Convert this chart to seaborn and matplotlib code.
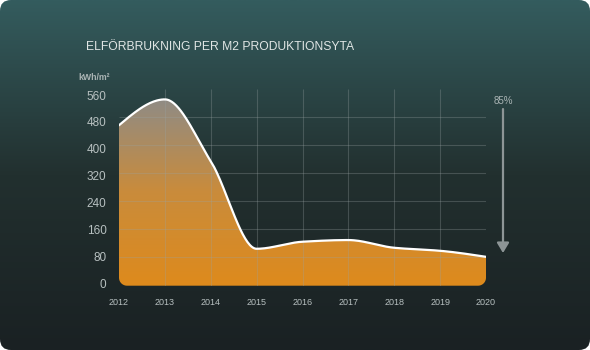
import numpy as np
import pandas as pd
import matplotlib
matplotlib.use('Agg')
import matplotlib.pyplot as plt
import seaborn as sns
from matplotlib.colors import LinearSegmentedColormap
from matplotlib.patches import Polygon, FancyBboxPatch

# data
years = [2012, 2013, 2014, 2015, 2016, 2017, 2018, 2019, 2020]
kwh_per_m2 = [470, 547, 363, 102, 123, 128, 105, 96, 78]
y_ticks = [0, 80, 160, 240, 320, 400, 480, 560]
title = 'ELFÖRBRUKNING PER M2 PRODUKTIONSYTA'
unit = 'kWh/m²'
reduction = '85%'


def monotone_curve(x, y, n=40):
	# monotone cubic (Fritsch-Carlson) used only to draw a smooth line through the points
	x = np.asarray(x, float)
	y = np.asarray(y, float)
	h = np.diff(x)
	d = np.diff(y) / h
	m = np.zeros(len(x))
	for i in range(1, len(x) - 1):
		if d[i - 1] * d[i] <= 0:
			m[i] = 0
		else:
			w1 = 2 * h[i] + h[i - 1]
			w2 = h[i] + 2 * h[i - 1]
			m[i] = (w1 + w2) / (w1 / d[i - 1] + w2 / d[i])
	m[0] = (3 * d[0] - m[1]) / 2
	m[-1] = (3 * d[-1] - m[-2]) / 2
	xs, ys = [], []
	for i in range(len(x) - 1):
		t = np.linspace(0, 1, n, endpoint=(i == len(x) - 2))
		h00 = 2 * t**3 - 3 * t**2 + 1
		h10 = t**3 - 2 * t**2 + t
		h01 = -2 * t**3 + 3 * t**2
		h11 = t**3 - t**2
		xs.append(x[i] + t * h[i])
		ys.append(h00 * y[i] + h10 * h[i] * m[i] + h01 * y[i + 1] + h11 * h[i] * m[i + 1])
	return np.concatenate(xs), np.concatenate(ys)


sns.set_theme(style='dark')
plt.rcParams['font.family'] = ['Liberation Sans', 'DejaVu Sans']

W, H = 590, 350
fig = plt.figure(figsize=(W / 100, H / 100), dpi=100)
fig.patch.set_facecolor('white')

# background card with vertical gradient and rounded corners
bg = fig.add_axes([0, 0, 1, 1])
bg.set_axis_off()
bgCmap = LinearSegmentedColormap.from_list('bg', ['#1a2123', '#22302f', '#345c5e'])
im = bg.imshow(np.linspace(0, 1, 256).reshape(-1, 1), cmap=bgCmap, origin='lower',
	extent=[0, W, 0, H], aspect='auto', zorder=0)
bg.set_xlim(0, W)
bg.set_ylim(0, H)
card = FancyBboxPatch((0, 0), W, H, boxstyle='round,pad=0,rounding_size=11',
	transform=bg.transData, facecolor='none', edgecolor='none')
bg.add_patch(card)
im.set_clip_path(card)

# main axes
x0, x1 = 119, 486
yBot, yTop = 285.7, 89
ax = fig.add_axes([x0 / W, 1 - yBot / H, (x1 - x0) / W, (yBot - yTop) / H])
ax.set_facecolor('none')
for s in ax.spines.values():
	s.set_visible(False)
ax.grid(False)

ylo, yhi = -8, 578
ax.set_xlim(years[0], years[-1])
ax.set_ylim(ylo, yhi)

cx, cy = monotone_curve(years, kwh_per_m2)
curveDf = pd.DataFrame({'year': cx, 'value': cy})

# gradient fill clipped to the area under the curve, with rounded bottom corners
pxPerYear = (x1 - x0) / (years[-1] - years[0])
pxPerUnit = (yBot - yTop) / (yhi - ylo)
r = 8
rx, ry = r / pxPerYear, r / pxPerUnit
ang = np.linspace(0, -np.pi / 2, 12)
rightArc = np.column_stack([years[-1] - rx + rx * np.cos(ang), ylo + ry + ry * np.sin(ang)])
ang2 = np.linspace(-np.pi / 2, -np.pi, 12)
leftArc = np.column_stack([years[0] + rx + rx * np.cos(ang2), ylo + ry + ry * np.sin(ang2)])
poly = np.vstack([np.column_stack([cx, cy]), rightArc, leftArc])
clip = Polygon(poly, closed=True, transform=ax.transData, facecolor='none', edgecolor='none')
ax.add_patch(clip)

fillCmap = LinearSegmentedColormap.from_list('fill', ['#de8a1c', '#c98c3c', '#8d8b88'])
grad = ax.imshow(np.linspace(0, 1, 256).reshape(-1, 1), cmap=fillCmap, origin='lower',
	extent=[years[0], years[-1], ylo, 560], aspect='auto', zorder=1)
grad.set_clip_path(clip)

# grid (reference grid is spaced a little wider than the tick labels)
gridVals = [(yBot - 2.7 - py) / pxPerUnit for py in [257, 229, 201, 173, 145, 117]]
ax.hlines(gridVals, years[0], years[-1], color='#9aa3a4', alpha=0.3, lw=0.8, zorder=2)
ax.vlines(years[1:-1], ylo, yhi, color='#9aa3a4', alpha=0.3, lw=0.8, zorder=2)

sns.lineplot(data=curveDf, x='year', y='value', ax=ax, color='white', lw=1.6,
	sort=False, estimator=None, zorder=3)
ax.set_xlim(years[0], years[-1])
ax.set_ylim(ylo, yhi)

ax.set_xlabel('')
ax.set_ylabel('')
ax.set_xticks(years)
ax.set_xticklabels([str(y) for y in years])
ax.set_yticks(y_ticks)
ax.set_yticklabels([str(v) for v in y_ticks])
ax.tick_params(axis='y', length=0, pad=9, labelsize=8.5, labelcolor='#b7c0c0')
ax.tick_params(axis='x', length=0, pad=9, labelsize=6.5, labelcolor='#b7c0c0')

# titles
fig.text(86 / W, 1 - 47 / H, title, color='#dfe5e4', fontsize=8.7, va='center', ha='left')
fig.text(78 / W, 1 - 77 / H, unit, color='#aab4b4', fontsize=6.3, va='center', ha='left',
	fontweight='bold')

# reduction arrow
arrowX = years[-1] + (503 - x1) / pxPerYear
yStart = (yBot - 2.7 - 109) / pxPerUnit
yEnd = (yBot - 2.7 - 253) / pxPerUnit
ax.annotate('', xy=(arrowX, yEnd), xytext=(arrowX, yStart), annotation_clip=False,
	arrowprops=dict(arrowstyle='-|>,head_width=0.3,head_length=0.5', color='#8d9596', lw=1.6,
		shrinkA=0, shrinkB=0))
ax.text(arrowX, (yBot - 2.7 - 100.5) / pxPerUnit, reduction, color='#aab4b4', fontsize=7,
	ha='center', va='center', clip_on=False)

fig.savefig('out.png', dpi=100, facecolor='white')
